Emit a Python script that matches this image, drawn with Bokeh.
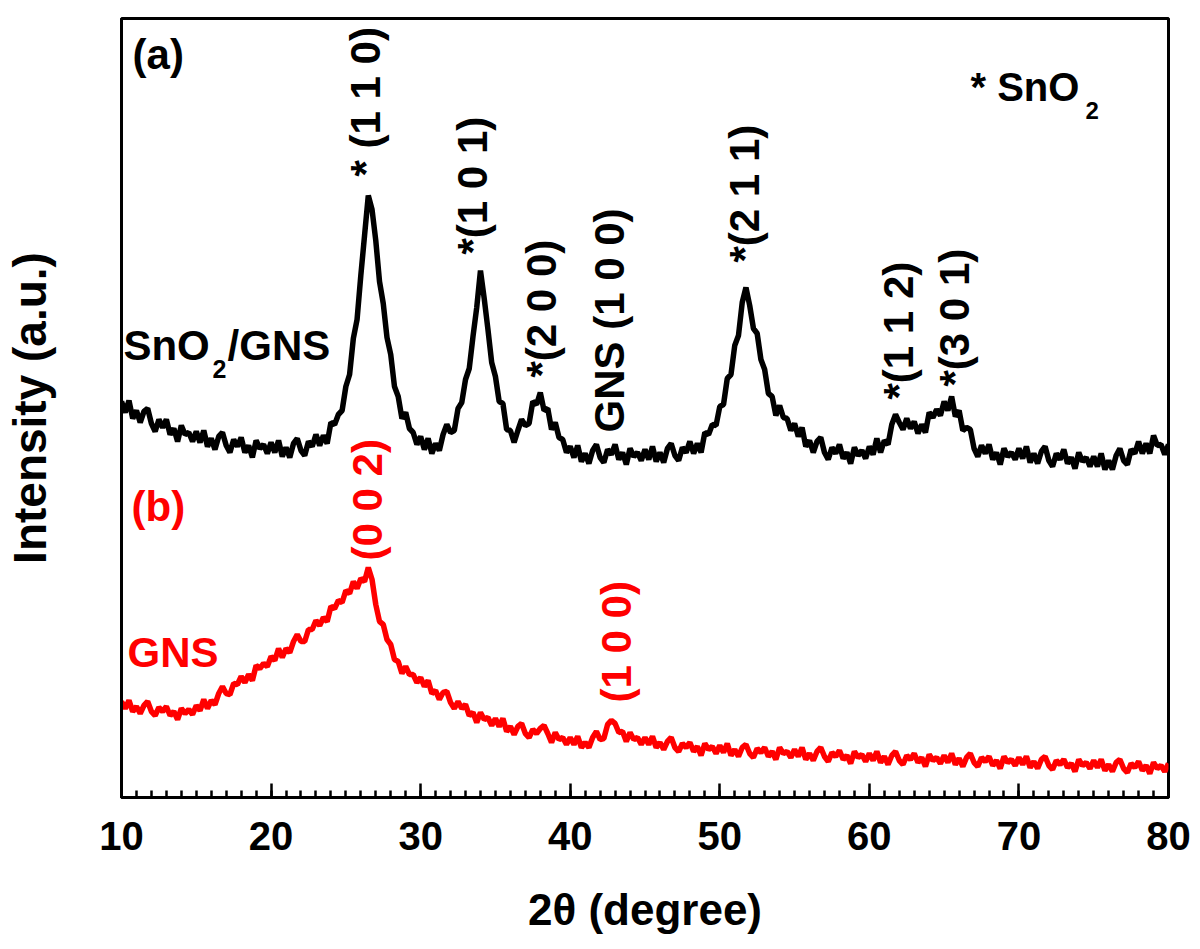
import numpy as np
from bokeh.plotting import figure
from bokeh.models import Range1d, SingleIntervalTicker, FixedTicker
from bokeh.core.properties import value
from bokeh.embed import file_html
from bokeh.resources import INLINE

# 2-theta grid (degree), 0.25 step
two_theta = np.round(np.arange(10, 80.001, 0.25), 2)

# (a) SnO2/GNS intensity (a.u.)
sno2_gns = [
    396, 385, 397, 379, 387, 375, 386, 389, 374, 366, 378, 370, 378, 363, 369, 356, 372, 363, 365, 356,
    366, 355, 367, 351, 359, 348, 361, 365, 352, 345, 358, 351, 360, 345, 352, 340, 357, 349, 353, 344,
    355, 345, 357, 341, 350, 340, 354, 359, 347, 342, 356, 351, 363, 352, 362, 354, 375, 373, 383, 387,
    411, 423, 459, 478, 522, 562, 602, 588, 557, 516, 494, 460, 443, 411, 401, 379, 385, 369, 365, 353,
    361, 348, 359, 344, 354, 347, 363, 373, 365, 367, 389, 395, 418, 429, 461, 490, 527, 499, 468, 435,
    421, 396, 394, 368, 367, 355, 367, 378, 372, 374, 396, 393, 405, 387, 389, 368, 375, 360, 358, 345,
    351, 340, 352, 336, 344, 334, 347, 353, 340, 335, 348, 343, 353, 338, 345, 333, 349, 341, 345, 337,
    348, 338, 351, 336, 345, 335, 349, 354, 342, 337, 350, 345, 356, 344, 354, 345, 365, 363, 373, 372,
    391, 393, 419, 423, 452, 462, 495, 510, 492, 469, 464, 438, 428, 404, 401, 382, 392, 380, 379, 367,
    374, 361, 370, 351, 357, 345, 356, 360, 345, 338, 350, 344, 353, 339, 345, 334, 350, 342, 347, 339,
    351, 343, 359, 345, 357, 353, 373, 383, 375, 368, 379, 369, 376, 364, 373, 365, 385, 380, 388, 382,
    396, 387, 401, 381, 387, 367, 370, 368, 349, 341, 352, 344, 353, 338, 345, 333, 349, 341, 345, 338,
    349, 339, 351, 335, 344, 334, 346, 351, 337, 331, 344, 338, 348, 334, 340, 329, 345, 336, 340, 331,
    341, 331, 344, 328, 337, 328, 342, 349, 337, 333, 348, 344, 356, 344, 354, 344, 362, 352, 353, 343, 353,
]

# (b) GNS intensity (a.u.)
gns = [
    96, 89, 97, 86, 91, 84, 92, 96, 86, 82, 90, 86, 91, 82, 86, 78, 89, 84, 88, 83,
    92, 87, 98, 89, 97, 93, 104, 111, 104, 103, 114, 113, 121, 115, 123, 117, 132, 129, 134, 131,
    141, 137, 149, 140, 149, 145, 156, 163, 156, 156, 168, 168, 177, 172, 180, 176, 191, 189, 197, 195,
    207, 204, 216, 209, 219, 216, 230, 218, 193, 176, 173, 158, 153, 138, 136, 124, 131, 123, 123, 115,
    120, 111, 117, 104, 107, 98, 105, 106, 95, 89, 96, 89, 93, 82, 85, 75, 85, 78, 80, 72,
    79, 71, 79, 66, 71, 63, 71, 74, 64, 60, 68, 64, 69, 72, 64, 55, 65, 58, 60, 53,
    60, 53, 61, 50, 55, 50, 60, 66, 58, 59, 73, 77, 74, 65, 66, 56, 65, 58, 60, 53,
    60, 53, 61, 50, 55, 48, 56, 60, 50, 46, 54, 50, 55, 46, 51, 42, 54, 48, 51, 44,
    52, 45, 54, 42, 48, 41, 50, 53, 44, 40, 49, 45, 50, 41, 46, 38, 50, 44, 46, 40,
    48, 41, 50, 38, 44, 37, 46, 50, 41, 36, 45, 41, 47, 38, 42, 34, 46, 40, 43, 36,
    44, 37, 46, 35, 41, 33, 42, 46, 37, 33, 42, 38, 44, 35, 40, 31, 43, 37, 40, 34,
    42, 35, 44, 33, 39, 31, 40, 44, 35, 31, 40, 36, 41, 32, 37, 29, 41, 35, 38, 32,
    40, 33, 41, 30, 36, 29, 38, 41, 32, 28, 37, 33, 38, 30, 34, 26, 38, 32, 35, 29,
    37, 30, 38, 27, 33, 26, 35, 38, 29, 25, 34, 30, 36, 27, 32, 24, 35, 29, 32, 26, 34,
]

# peak annotations
sno2_peak_labels = ["* (1 1 0)", "*(1 0 1)", "*(2 0 0)", "GNS (1 0 0)", "*(2 1 1)", "*(1 1 2)", "*(3 0 1)"]
sno2_peak_x = [26.31, 33.47, 38.08, 42.63, 51.65, 61.95, 65.69]
sno2_peak_y = [621, 543, 420, 365, 535, 398, 411]
gns_peak_labels = ["(0 0 2)", "(1 0 0)"]
gns_peak_x = [26.46, 43.11]
gns_peak_y = [237, 95]

x_ticks_interval = 10

FONT = value("Liberation Sans")

p = figure(width=1200, height=949, output_backend="svg", toolbar_location=None,
           x_range=Range1d(10, 80), y_range=Range1d(0, 779),
           min_border_left=121, min_border_right=32, min_border_top=18, min_border_bottom=152)
p.grid.visible = False
p.background_fill_color = "white"
p.border_fill_color = "white"
p.outline_line_color = "black"
p.outline_line_width = 3

# x axis
xa = p.xaxis[0]
xa.ticker = SingleIntervalTicker(interval=x_ticks_interval, num_minor_ticks=10)
xa.axis_line_width = 3
xa.major_tick_in = 14
xa.major_tick_out = 0
xa.minor_tick_in = 7
xa.minor_tick_out = 0
xa.major_tick_line_width = 2.5
xa.minor_tick_line_width = 2.5
xa.major_label_text_font = "Liberation Sans"
xa.major_label_text_font_style = "bold"
xa.major_label_text_font_size = "40px"
xa.major_label_text_color = "black"
xa.major_label_standoff = 24
xa.axis_label = "2θ (degree)"
xa.axis_label_text_font = "Liberation Sans"
xa.axis_label_text_font_style = "bold"
xa.axis_label_text_font_size = "44px"
xa.axis_label_text_color = "black"
xa.axis_label_standoff = 32

# y axis (no ticks)
ya = p.yaxis[0]
ya.ticker = FixedTicker(ticks=[])
ya.axis_line_width = 3
ya.major_tick_in = 0
ya.major_tick_out = 0
ya.minor_tick_in = 0
ya.minor_tick_out = 0
ya.major_label_text_font_size = "0px"
ya.major_label_standoff = 0
ya.axis_label = "Intensity (a.u.)"
ya.axis_label_text_font = "Liberation Sans"
ya.axis_label_text_font_style = "bold"
ya.axis_label_text_font_size = "46px"
ya.axis_label_text_color = "black"
ya.axis_label_standoff = 66

# curves
p.line(two_theta, sno2_gns, line_color="black", line_width=5.5)
p.line(two_theta, gns, line_color="#ff0000", line_width=5.5)

# rotated peak labels
p.text(x=sno2_peak_x, y=sno2_peak_y, text=sno2_peak_labels, angle=np.pi / 2,
       text_align="left", text_baseline="middle", text_font=FONT,
       text_font_style="bold", text_font_size="42px", text_color="black")
p.text(x=gns_peak_x, y=gns_peak_y, text=gns_peak_labels, angle=np.pi / 2,
       text_align="left", text_baseline="middle", text_font=FONT,
       text_font_style="bold", text_font_size="42px", text_color="#ff0000")

# panel labels and sample names
def label(x, y, t, size, color="black"):
    p.text(x=[x], y=[y], text=[t], text_align="left", text_baseline="alphabetic",
           text_font=FONT, text_font_style="bold", text_font_size=size, text_color=color)

label(10.74, 743, "(a)", "42px")
label(66.76, 711, "* SnO", "40px")
label(74.45, 687, "2", "24px")
label(10.13, 452, "SnO", "42px")
label(16.08, 429, "2", "25px")
label(17.09, 452, "/GNS", "42px")
label(10.67, 291, "(b)", "42px", "#ff0000")
label(10.40, 145, "GNS", "42px", "#ff0000")

open("out.html", "w").write(file_html(p, INLINE))
